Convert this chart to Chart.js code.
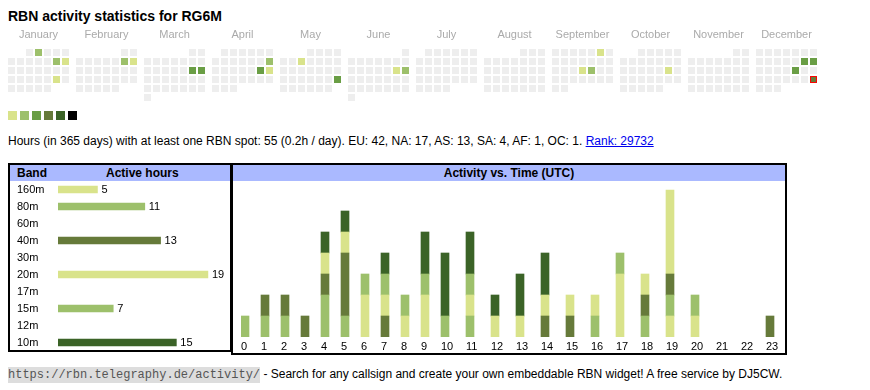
<!DOCTYPE html>
<html>
<head>
<meta charset="utf-8">
<script src="https://cdn.jsdelivr.net/npm/chart.js@4.4.1/dist/chart.umd.min.js"></script>
<style>
  body { margin: 0; background: #fff; color: #000; font-family: "Liberation Sans", Arial, sans-serif; font-size: 11px; }
  .abs { position: absolute; }
  #title { left: 8px; top: 8px; font-size: 14px; font-weight: bold; line-height: 16px; white-space: nowrap; }
  #legend span { position: absolute; width: 9px; height: 9px; }
  #summary { left: 8px; top: 134px; font-size: 12px; line-height: 14px; white-space: nowrap; }
  #summary a { color: #00e; }
  .box { position: absolute; border: 2px solid #000; box-sizing: border-box; }
  .head { position: absolute; left: 0; right: 0; top: 0; height: 16px; background: #aab9ff; font-size: 12px; font-weight: bold; line-height: 16px; white-space: nowrap; }
  #footer { left: 8px; top: 366px; font-size: 12px; line-height: 16px; white-space: nowrap; }
  #footer code { font-family: "Liberation Mono", monospace; font-size: 12px; background: #ddd; color: #555; padding: 1px 0; }
  canvas { position: absolute; }
</style>
</head>
<body>
<div id="title" class="abs">RBN activity statistics for RG6M</div>
<canvas id="calendar" width="830" height="80" style="left:0;top:25px"></canvas>
<div id="legend" class="abs" style="left:8px;top:111px"></div>
<div id="summary" class="abs">Hours (in 365 days) with at least one RBN spot: 55 (0.2h / day). EU: 42, NA: 17, AS: 13, SA: 4, AF: 1, OC: 1. <a href="#">Rank: 29732</a></div>

<div class="box" style="left:8px;top:163px;width:224px;height:189px">
  <div class="head"><span class="abs" style="left:7px">Band</span><span class="abs" style="left:96px">Active hours</span></div>
</div>
<div class="box" style="left:231px;top:163px;width:556px;height:192px">
  <div class="head" style="text-align:center">Activity vs. Time (UTC)</div>
</div>
<canvas id="bands" width="220" height="184" style="left:10px;top:174px"></canvas>
<canvas id="hours" width="552" height="173" style="left:233px;top:181px"></canvas>

<div id="footer" class="abs"><code>https://rbn.telegraphy.de/activity/</code> - Search for any callsign and create your own embeddable RBN widget! A free service by DJ5CW.</div>

<script>
// ---- data ----
const year = 2025;
const monthNames = ['January', 'February', 'March', 'April', 'May', 'June', 'July', 'August', 'September', 'October', 'November', 'December'];
const activeDays = ['2025-01-02', '2025-01-11', '2025-01-12', '2025-01-25', '2025-02-08', '2025-02-09', '2025-03-15', '2025-03-16',
  '2025-04-13', '2025-04-19', '2025-04-20', '2025-05-07', '2025-05-25', '2025-06-14', '2025-06-15', '2025-09-06',
  '2025-09-18', '2025-09-19', '2025-10-18', '2025-12-13', '2025-12-14', '2025-12-19', '2025-12-28'];
const activeLevels = [2, 2, 1, 1, 2, 1, 3, 3, 2, 3, 1, 1, 3, 1, 2, 1, 1, 2, 1, 3, 3, 3, 4];
const today = '2025-12-28';
const levelColors = ['#d9e38b', '#9dc06b', '#6a9e45', '#667a3a', '#3b6327', '#000000'];

const bands = ['160m', '80m', '60m', '40m', '30m', '20m', '17m', '15m', '12m', '10m'];
const bandHours = [5, 11, 0, 13, 0, 19, 0, 7, 0, 15];
const bandColors = ['#d9e38b', '#9dc06b', '#6a9e45', '#667a3a', '#3b6327', '#d9e38b', '#9dc06b', '#9dc06b', '#667a3a', '#3b6327'];

const hourLabels = ['0', '1', '2', '3', '4', '5', '6', '7', '8', '9', '10', '11', '12', '13', '14', '15', '16', '17', '18', '19', '20', '21', '22', '23'];
const hours160m = [0, 0, 0, 0, 0, 0, 0, 0, 1, 0, 0, 0, 1, 1, 0, 0, 0, 0, 0, 1, 1, 0, 0, 0];
const hours80m  = [1, 1, 1, 0, 2, 1, 0, 0, 1, 0, 0, 1, 0, 0, 0, 0, 1, 0, 1, 1, 0, 0, 0, 0];
const hours40m  = [0, 1, 1, 1, 1, 3, 0, 1, 0, 0, 0, 0, 0, 0, 1, 1, 0, 0, 1, 1, 0, 0, 0, 1];
const hours20m  = [0, 0, 0, 0, 1, 1, 2, 1, 0, 2, 0, 1, 0, 0, 1, 1, 1, 3, 1, 4, 0, 0, 0, 0];
const hours15m  = [0, 0, 0, 0, 0, 0, 1, 1, 0, 1, 1, 1, 0, 0, 0, 0, 0, 1, 0, 0, 1, 0, 0, 0];
const hours10m  = [0, 0, 0, 0, 1, 1, 0, 1, 0, 2, 3, 2, 1, 2, 2, 0, 0, 0, 0, 0, 0, 0, 0, 0];
const hourlyByBand = { '160m': hours160m, '80m': hours80m, '40m': hours40m, '20m': hours20m, '15m': hours15m, '10m': hours10m };

// ---- common ----
const FONT = '"Liberation Sans", Arial, sans-serif';
Chart.defaults.font.family = FONT;
Chart.defaults.font.size = 11;
Chart.defaults.color = '#000';
Chart.defaults.animation = false;
Chart.defaults.events = [];
Chart.defaults.plugins.legend.display = false;
Chart.defaults.plugins.tooltip.enabled = false;

// zero counts are left empty so no sliver bar is drawn
const noZero = arr => arr.map(v => (v === 0 ? null : v));

// ---- calendar heatmap ----
const MONTH_PITCH = 68, CELL = 9;

function cellOf(m, d) {
  const first = (new Date(year, m, 1).getDay() + 6) % 7; // monday first
  const col = (new Date(year, m, d).getDay() + 6) % 7;
  const row = Math.floor((d - 1 + first) / 7);
  return { x: m * MONTH_PITCH + col * CELL, y: row * CELL };
}
function cellOfIso(s) {
  const [, m, d] = s.split('-').map(Number);
  return cellOf(m - 1, d);
}

const allDays = [];
for (let m = 0; m < 12; m++) {
  const n = new Date(year, m + 1, 0).getDate();
  for (let d = 1; d <= n; d++) allDays.push(cellOf(m, d));
}

const legend = document.getElementById('legend');
levelColors.forEach((c, i) => {
  const s = document.createElement('span');
  s.style.left = (i * 12) + 'px';
  s.style.background = c;
  legend.appendChild(s);
});

const rectRadius = 7 / (2 * Math.SQRT1_2);

new Chart(document.getElementById('calendar'), {
  type: 'scatter',
  data: {
    datasets: [
      {
        data: [cellOfIso(today)],
        order: 1,
        pointStyle: 'rect',
        pointRadius: 6 / (2 * Math.SQRT1_2),
        pointBackgroundColor: levelColors[activeLevels[activeDays.indexOf(today)] - 1],
        pointBorderColor: '#ff0000',
        pointBorderWidth: 1
      },
      {
        data: activeDays.map(cellOfIso),
        order: 2,
        pointStyle: 'rect',
        pointRadius: rectRadius,
        pointBackgroundColor: activeLevels.map(l => levelColors[l - 1]),
        pointBorderWidth: 0
      },
      {
        data: allDays,
        order: 3,
        pointStyle: 'rect',
        pointRadius: rectRadius,
        pointBackgroundColor: '#eeeeee',
        pointBorderWidth: 0
      }
    ]
  },
  options: {
    responsive: false,
    layout: { padding: 0, autoPadding: false },
    scales: {
      x: {
        type: 'linear',
        position: 'top',
        min: -11.5,
        max: 830 - 11.5,
        grid: { display: false, drawTicks: false },
        border: { display: false },
        ticks: {
          autoSkip: false,
          maxRotation: 0,
          padding: 7,
          color: '#aaaaaa',
          font: { size: 11 },
          callback: (v, i) => monthNames[i]
        },
        afterBuildTicks(scale) {
          scale.ticks = monthNames.map((_, m) => ({ value: m * MONTH_PITCH + 3 * CELL }));
        },
        afterFit(scale) { scale.height = 24; }
      },
      y: { display: false, reverse: true, min: -3.5, max: 56 - 3.5 }
    }
  }
});

// ---- active hours per band ----
const barValueLabels = {
  id: 'barValueLabels',
  afterDatasetsDraw(chart) {
    const { ctx } = chart;
    const meta = chart.getDatasetMeta(0);
    ctx.save();
    ctx.font = '11px ' + FONT;
    ctx.fillStyle = '#000';
    ctx.textBaseline = 'middle';
    meta.data.forEach((bar, i) => {
      const v = chart.data.datasets[0].data[i];
      if (!v) return;
      ctx.fillText(v, bar.x + 4, bar.y);
    });
    ctx.restore();
  }
};

new Chart(document.getElementById('bands'), {
  type: 'bar',
  data: {
    labels: bands,
    datasets: [{ data: noZero(bandHours), backgroundColor: bandColors, barThickness: 7, borderWidth: 0 }]
  },
  options: {
    responsive: false,
    indexAxis: 'y',
    layout: { padding: { left: 7, right: 0, top: 7, bottom: 7 } },
    scales: {
      x: { display: false, min: 0, max: 21.8 },
      y: {
        grid: { display: false, drawTicks: false },
        border: { display: false },
        ticks: { crossAlign: 'far', autoSkip: false, padding: 0 },
        afterFit(scale) { scale.width = 41; }
      }
    }
  },
  plugins: [barValueLabels]
});

// ---- activity vs time: table-like columns, wider for two-digit hours ----
const BAR_W = 8;
const colWidth = label => 15 + 5 * String(label).length;

class TableColumnScale extends Chart.CategoryScale {
  static id = 'tableColumns';
  static defaults = {};
  colLeft(index) {
    const labels = this.getLabels();
    let x = this.left;
    for (let i = 0; i < index; i++) x += colWidth(labels[i]);
    return x;
  }
  getPixelForValue(value) {
    if (typeof value !== 'number') value = this.parse(value);
    return this.colLeft(value) + BAR_W / 2;
  }
  getPixelForTick(index) {
    const t = this.ticks[index];
    return t ? this.colLeft(t.value) : null;
  }
}
Chart.register(TableColumnScale);

new Chart(document.getElementById('hours'), {
  type: 'bar',
  data: {
    labels: hourLabels,
    datasets: bands.filter(b => hourlyByBand[b]).map(b => ({
      label: b,
      data: noZero(hourlyByBand[b]),
      backgroundColor: bandColors[bands.indexOf(b)],
      barThickness: BAR_W,
      borderWidth: 0,
      stack: 'all'
    }))
  },
  options: {
    responsive: false,
    layout: { padding: { left: 8, right: 0, top: 0, bottom: 0 } },
    scales: {
      x: {
        type: 'tableColumns',
        stacked: true,
        grid: { display: false, drawTicks: false },
        border: { display: false },
        ticks: { align: 'start', autoSkip: false, maxRotation: 0, padding: 3, callback: (v, i) => hourLabels[i] },
        afterFit(scale) { scale.height = 17; }
      },
      y: { stacked: true, display: false, min: 0, max: 156 / 21 }
    }
  }
});
</script>
</body>
</html>
